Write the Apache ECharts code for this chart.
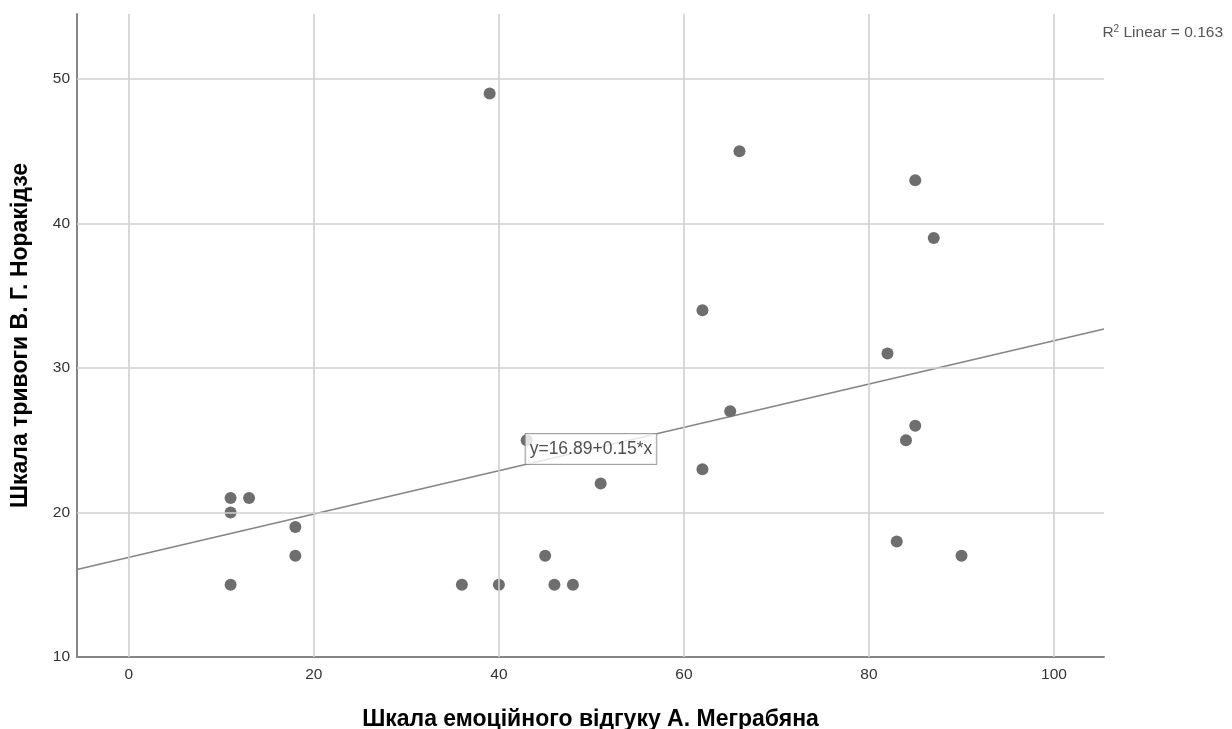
<!DOCTYPE html>
<html>
<head>
<meta charset="utf-8">
<script src="https://cdn.jsdelivr.net/npm/echarts@6/dist/echarts.min.js"></script>
<style>html,body{margin:0;padding:0;background:#fff}#c{width:1232px;height:729px}</style>
</head>
<body>
<div id="c"></div>
<script>
const xValues = [11, 11, 11, 13, 18, 18, 36, 39, 40, 43, 45, 46, 48, 51, 62, 62, 65, 66, 82, 83, 84, 85, 85, 87, 90];
const yValues = [21, 20, 15, 21, 19, 17, 15, 49, 15, 25, 17, 15, 15, 22, 34, 23, 27, 45, 31, 18, 25, 43, 26, 39, 17];
const xTicks = [0, 20, 40, 60, 80, 100];
const yTicks = [10, 20, 30, 40, 50];
const xRange = [-5.6, 105.4];
const yRange = [10, 54.5];
const fitIntercept = 16.89;
const fitSlope = 0.15;
const fitLabel = 'y=16.89+0.15*x';
const fitLabelAt = [49.95, 24.39];
const r2Text = '0.163';

const points = xValues.map((x, i) => [x, yValues[i]]);
const fitLine = xRange.map(x => [x, fitIntercept + fitSlope * x]);

const chart = echarts.init(document.getElementById('c'), null, {renderer: 'canvas'});
const font = '"Liberation Sans", Arial, sans-serif';
chart.setOption({
  animation: false,
  backgroundColor: '#fff',
  textStyle: {fontFamily: font},
  title: {
    right: 4, top: 18,
    text: '{a|R}{s|2}{a| Linear = ' + r2Text + '}',
    textStyle: {
      rich: {
        a: {fontFamily: font, fontSize: 15.5, color: '#555', fontWeight: 'normal', verticalAlign: 'bottom', lineHeight: 18},
        s: {fontFamily: font, fontSize: 10, color: '#555', fontWeight: 'normal', verticalAlign: 'bottom', lineHeight: 18, padding: [0, 0, 7, 0]}
      }
    }
  },
  grid: {left: 77, right: 128, top: 14, bottom: 72, containLabel: false, outerBoundsMode: 'none'},
  xAxis: {
    type: 'value', min: xRange[0], max: xRange[1],
    splitNumber: 5,
    name: 'Шкала емоційного відгуку А. Меграбяна',
    nameLocation: 'middle', nameGap: 51,
    nameTextStyle: {fontFamily: font, fontSize: 23, fontWeight: 'bold', color: '#000'},
    axisLine: {show: true, onZero: false, lineStyle: {color: '#858585', width: 2}},
    axisTick: {show: false},
    axisLabel: {
      fontFamily: font, fontSize: 15.5, color: '#333', margin: 10,
      showMinLabel: false, showMaxLabel: false,
      formatter: v => xTicks.includes(v) ? String(v) : ''
    },
    splitLine: {show: false}
  },
  yAxis: {
    type: 'value', min: yRange[0], max: yRange[1], interval: 10,
    name: 'Шкала тривоги В. Г. Норакідзе',
    nameLocation: 'middle', nameGap: 45, nameRotate: 90,
    nameTextStyle: {fontFamily: font, fontSize: 23, fontWeight: 'bold', color: '#000'},
    axisLine: {show: true, onZero: false, lineStyle: {color: '#858585', width: 2}},
    axisTick: {show: false},
    axisLabel: {
      fontFamily: font, fontSize: 15.5, color: '#333', margin: 7,
      showMaxLabel: false,
      formatter: v => yTicks.includes(v) ? String(v) : ''
    },
    splitLine: {show: false}
  },
  series: [
    {
      type: 'line', data: [], silent: true,
      markLine: {
        silent: true, symbol: 'none', animation: false,
        label: {show: false},
        lineStyle: {color: '#d0d0d0', width: 1.6, type: 'solid'},
        data: xTicks.map(v => ({xAxis: v})).concat(yTicks.filter(v => v !== yRange[0]).map(v => ({yAxis: v})))
      },
      z: 1
    },
    {
      type: 'line', data: fitLine, showSymbol: false, silent: true,
      lineStyle: {color: '#858585', width: 1.6}, z: 3
    },
    {
      type: 'scatter', data: points, symbol: 'circle', symbolSize: 12,
      itemStyle: {color: '#6e6e6e', opacity: 1}, z: 4
    },
    {
      type: 'scatter', data: [fitLabelAt], symbolSize: 0, silent: true, z: 10,
      label: {
        show: true, position: 'inside', formatter: fitLabel,
        fontFamily: font, fontSize: 17.5, color: '#222', lineHeight: 20,
        backgroundColor: '#fff', borderColor: '#8a8a8a', borderWidth: 1,
        padding: [5, 4, 5, 4]
      }
    }
  ]
});
</script>
</body>
</html>
